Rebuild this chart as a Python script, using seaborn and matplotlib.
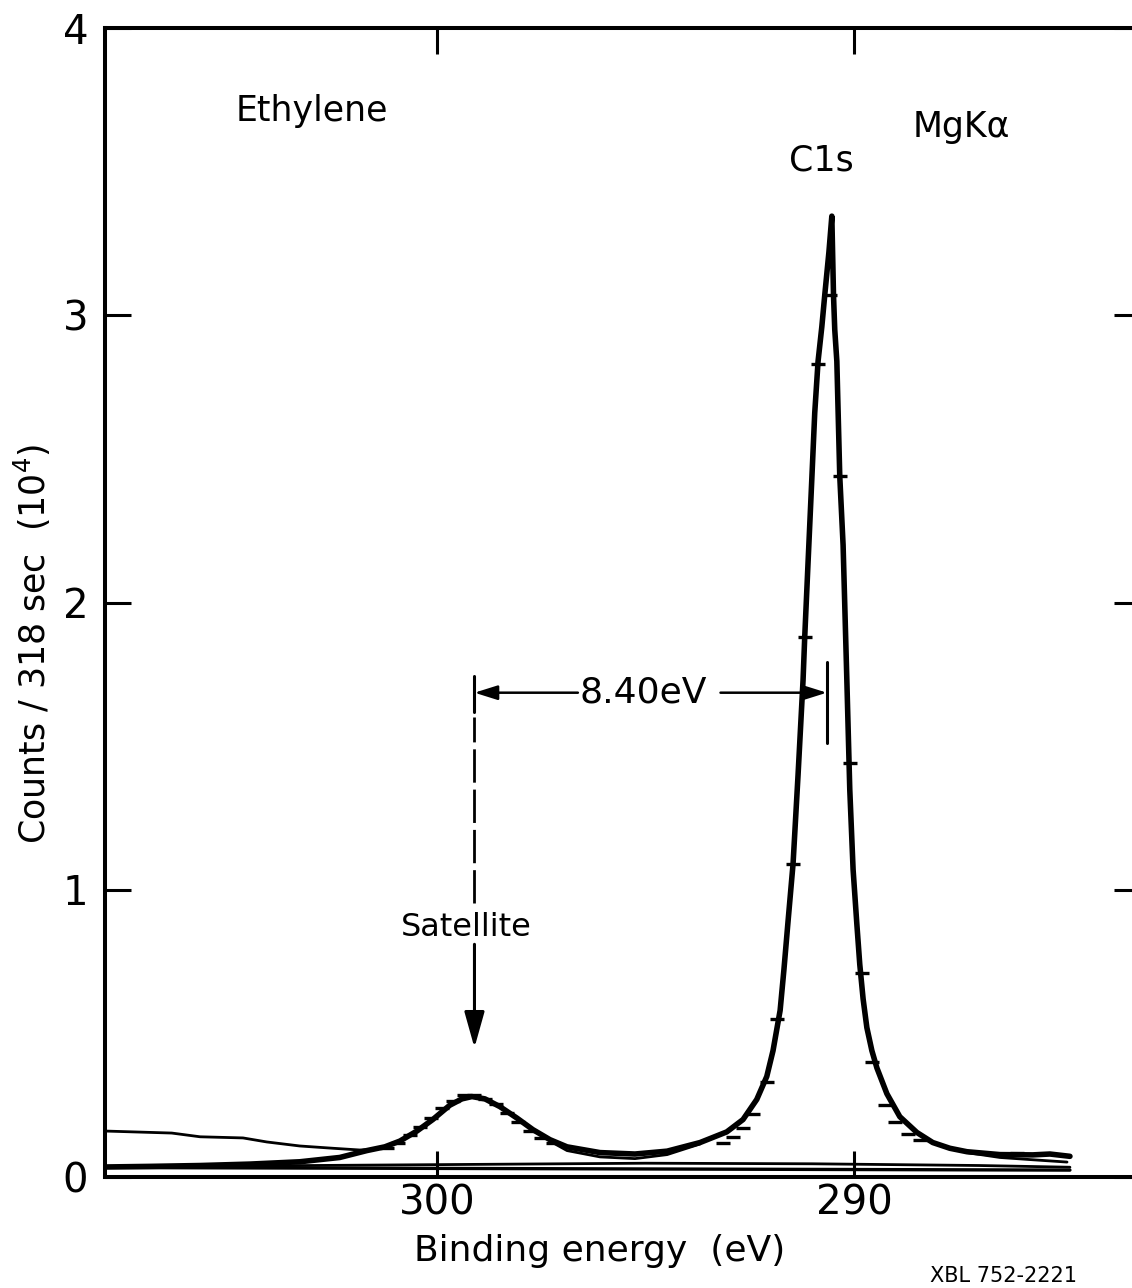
import numpy as np
import pandas as pd
import matplotlib
matplotlib.use("Agg")
import matplotlib.pyplot as plt
import seaborn as sns

# fitted total curve (binding energy in eV, counts / 318 sec in 10^4)
fit_be = [307.91, 306.88, 305.68, 304.48, 303.29, 302.33, 301.68, 301.25, 300.89, 300.48,
          300.10, 299.69, 299.40, 299.16, 298.85, 298.49, 298.08, 297.70, 297.29, 296.88,
          296.09, 295.25, 294.48, 293.69, 293.05, 292.66, 292.33, 292.09, 291.94, 291.77,
          291.68, 291.58, 291.46, 291.34, 291.22, 291.18, 291.10, 291.01, 290.94, 290.86,
          290.77, 290.70, 290.60, 290.53, 290.49, 290.46, 290.41, 290.34, 290.26, 290.17,
          290.10, 290.02, 289.93, 289.86, 289.78, 289.69, 289.57, 289.45, 289.21, 288.90,
          288.49, 288.11, 287.70, 287.29, 286.50, 285.71, 285.30, 284.82]
fit_counts = [0.035, 0.037, 0.040, 0.045, 0.053, 0.068, 0.092, 0.105, 0.125, 0.16,
              0.20, 0.25, 0.272, 0.28, 0.272, 0.245, 0.205, 0.165, 0.13, 0.105,
              0.085, 0.080, 0.09, 0.12, 0.157, 0.20, 0.27, 0.35, 0.44, 0.58,
              0.72, 0.89, 1.09, 1.40, 1.73, 1.88, 2.14, 2.43, 2.66, 2.84,
              2.96, 3.07, 3.22, 3.345, 3.07, 2.95, 2.84, 2.44, 2.20, 1.73,
              1.35, 1.07, 0.88, 0.74, 0.62, 0.52, 0.44, 0.38, 0.29, 0.21,
              0.155, 0.12, 0.10, 0.088, 0.078, 0.077, 0.08, 0.072]

# measured points (short dashes on the curve)
pts_be = [301.20, 300.93, 300.65, 300.40, 300.15, 299.88, 299.62, 299.35, 299.10, 298.85,
          298.58, 298.32, 298.05, 297.78, 297.50, 297.22,
          293.14, 292.90, 292.66, 292.42, 292.09, 291.85, 291.46, 291.18, 290.86,
          290.58, 290.34, 290.10, 289.81, 289.57, 289.26, 289.02, 288.71, 288.42, 286.09]
pts_counts = [0.10, 0.12, 0.145, 0.175, 0.205, 0.24, 0.265, 0.285, 0.285, 0.272,
              0.255, 0.222, 0.19, 0.16, 0.135, 0.118,
              0.12, 0.14, 0.17, 0.22, 0.33, 0.55, 1.09, 1.88, 2.83,
              3.07, 2.44, 1.44, 0.71, 0.40, 0.25, 0.19, 0.15, 0.13, 0.084]

# inelastic background on the high energy side
bg_be = [307.96, 306.36, 305.68, 304.65, 304.08, 303.29, 302.49, 301.85, 301.44]
bg_counts = [0.160, 0.153, 0.140, 0.136, 0.122, 0.108, 0.100, 0.094, 0.098]

# satellite component through the valley
sat_be = [297.29, 296.88, 296.09, 295.25, 294.48, 293.69]
sat_counts = [0.125, 0.092, 0.070, 0.064, 0.078, 0.115]

# lower branch on the low energy tail
tail_be = [287.29, 286.50, 285.71, 284.89]
tail_counts = [0.085, 0.068, 0.060, 0.052]

# baselines
base1_be = [307.91, 284.82]
base1_counts = [0.033, 0.024]
base2_be = [307.91, 303.0, 299.0, 295.0, 291.0, 287.0, 284.82]
base2_counts = [0.036, 0.040, 0.044, 0.048, 0.046, 0.040, 0.034]

x_ticks = [300, 290]
y_ticks = [0, 1, 2, 3, 4]

sat_pos = 299.1
peak_pos = 290.65
sep_label = "8.40eV"

sns.set_theme(style="ticks")
plt.rcParams['font.family'] = ['DejaVu Sans']
plt.rcParams['text.color'] = 'black'
plt.rcParams['axes.labelcolor'] = 'black'
plt.rcParams['xtick.color'] = 'black'
plt.rcParams['ytick.color'] = 'black'

fig = plt.figure(figsize=(11.32, 12.88), dpi=100)
ax = fig.add_axes([105 / 1132, 111 / 1288, (1140 - 105) / 1132, (1260 - 111) / 1288])

def trace(be, counts, lw):
    d = pd.DataFrame({'be': be, 'counts': counts})
    sns.lineplot(data=d, x='be', y='counts', ax=ax, color='black', lw=lw,
                 sort=False, estimator=None, legend=False)

trace(base1_be, base1_counts, 2.4)
trace(base2_be, base2_counts, 2.0)
trace(bg_be, bg_counts, 2.0)
trace(sat_be, sat_counts, 2.0)
trace(tail_be, tail_counts, 2.0)
trace(fit_be, fit_counts, 4.0)

pts = pd.DataFrame({'be': pts_be, 'counts': pts_counts})
sns.scatterplot(data=pts, x='be', y='counts', ax=ax, marker='_', s=90,
                color='black', linewidth=2.4, legend=False)

ax.set_xlim(307.96, 283.14)
ax.set_ylim(0, 4)
ax.set_xticks(x_ticks)
ax.set_yticks(y_ticks)
ax.set_xticklabels([str(v) for v in x_ticks])
ax.set_yticklabels([str(v) for v in y_ticks])

for s in ax.spines.values():
    s.set_linewidth(2.9)
    s.set_color('black')
ax.tick_params(axis='both', direction='in', length=19, width=2.2, color='black',
               labelcolor='black', top=True, right=True, labelsize=29)
ax.tick_params(axis='y', pad=12)
ax.tick_params(axis='x', pad=5)

ax.set_xlabel("Binding energy  (eV)", fontsize=26)
ax.set_ylabel("Counts / 318 sec  (10$^{4}$)", fontsize=25)
ax.xaxis.set_label_coords(0.478, -0.05)
ax.yaxis.set_label_coords(-0.05, 0.464)

ax.text(303.0, 3.71, "Ethylene", fontsize=25, ha='center', va='center')
ax.text(290.77, 3.54, "C1s", fontsize=25, ha='center', va='center')
ax.text(287.43, 3.655, "MgKα", fontsize=25, ha='center', va='center')
ax.text(295.05, 1.686, sep_label, fontsize=26, ha='center', va='center')
ax.text(299.3, 0.868, "Satellite", fontsize=23, ha='center', va='center')

# separation marker
ax.plot([sat_pos, sat_pos], [1.62, 1.745], color='black', lw=2.2)
ax.plot([sat_pos, sat_pos], [0.955, 1.60], color='black', lw=2.0, linestyle=(0, (12, 2.5)))
ax.plot([peak_pos, peak_pos], [1.512, 1.794], color='black', lw=2.2)
head = dict(arrowstyle='-|>,head_length=0.7,head_width=0.22', color='black', lw=1.8,
            mutation_scale=20, shrinkA=0, shrinkB=0)
ax.annotate('', xy=(sat_pos, 1.686), xytext=(296.62, 1.686), arrowprops=head)
ax.annotate('', xy=(peak_pos, 1.686), xytext=(293.2, 1.686), arrowprops=head)
ax.annotate('', xy=(sat_pos, 0.45), xytext=(sat_pos, 0.81),
            arrowprops=dict(arrowstyle='-|>,head_length=1.0,head_width=0.28', color='black',
                            lw=2.2, mutation_scale=22, shrinkA=0, shrinkB=0))

fig.text(930 / 1132, 1 - 1266 / 1288, "XBL 752-2221", fontsize=15, ha='left', va='top')

fig.savefig("out.png", dpi=100, facecolor='white')
